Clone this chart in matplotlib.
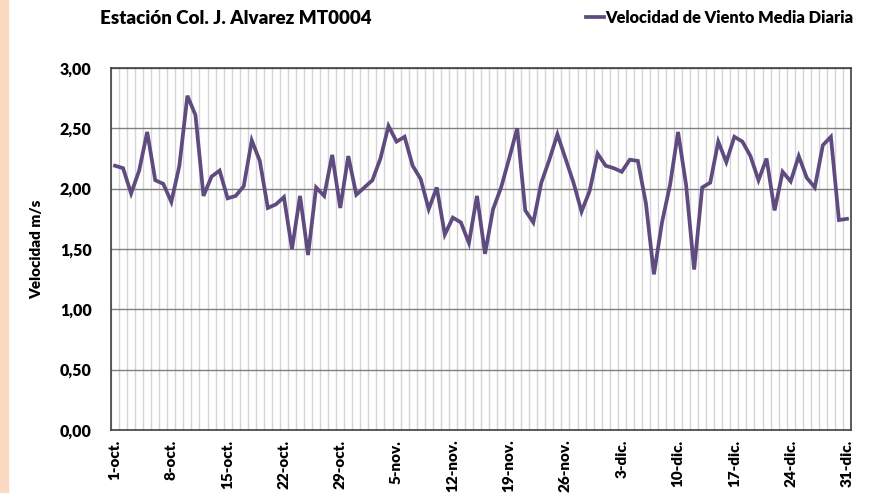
import matplotlib.pyplot as plt
import numpy as np

# daily mean wind speed, 1-oct .. 31-dic (92 days)
velocidad = [
    2.19, 2.17, 1.96, 2.15, 2.47, 2.07, 2.04, 1.89, 2.19, 2.77,
    2.61, 1.94, 2.10, 2.15, 1.92, 1.94, 2.02, 2.40, 2.23, 1.84,
    1.87, 1.93, 1.50, 1.94, 1.45, 2.01, 1.94, 2.28, 1.84, 2.27,
    1.95, 2.01, 2.07, 2.25, 2.52, 2.39, 2.43, 2.19, 2.08, 1.83,
    2.01, 1.62, 1.76, 1.72, 1.55, 1.94, 1.46, 1.83, 2.01, 2.25,
    2.50, 1.82, 1.72, 2.05, 2.24, 2.45, 2.25, 2.05, 1.81, 1.98,
    2.29, 2.19, 2.17, 2.14, 2.24, 2.23, 1.88, 1.29, 1.72, 2.03,
    2.47, 2.03, 1.33, 2.01, 2.05, 2.39, 2.22, 2.43, 2.39, 2.27,
    2.07, 2.25, 1.82, 2.14, 2.06, 2.27, 2.09, 2.01, 2.36, 2.43,
    1.74, 1.75,
]
etiquetas = ['1-oct.', '8-oct.', '15-oct.', '22-oct.', '29-oct.', '5-nov.',
             '12-nov.', '19-nov.', '26-nov.', '3-dic.', '10-dic.', '17-dic.',
             '24-dic.', '31-dic.']
y_ticks = [0, 0.5, 1.0, 1.5, 2.0, 2.5, 3.0]

plt.rcParams['font.family'] = ['Lato', 'DejaVu Sans']
plt.rcParams['font.weight'] = 'bold'

W, H = 879, 493
fig = plt.figure(figsize=(W / 100, H / 100), dpi=100)
ax = fig.add_axes([111 / W, 1 - 430 / H, 740 / W, 362 / H])

# peach strip on the left edge
fig.patches.append(plt.Rectangle((0, 0), 8 / W, 1, transform=fig.transFigure,
                                 color='#fcd9c2', zorder=0))

n = len(velocidad)
x = np.arange(n)
ax.plot(x, velocidad, color='#5f4b80', lw=2.7, solid_joinstyle='miter',
        label='Velocidad de Viento Media Diaria', zorder=3)

ax.set_xlim(-0.5, n - 0.5)
ax.set_ylim(0, 3)
ax.set_yticks(y_ticks)
ax.set_yticklabels([f'{v:.2f}'.replace('.', ',') for v in y_ticks],
                   fontsize=11.5, fontweight='heavy')
ax.set_xticks(x[::7])
ax.set_xticklabels(etiquetas, rotation=90, fontsize=11, fontweight='heavy')
ax.set_xticks(np.arange(n + 1) - 0.5, minor=True)
ax.tick_params(axis='both', which='both', length=0)
ax.tick_params(axis='y', pad=14)
ax.tick_params(axis='x', pad=7)

ax.grid(axis='x', which='minor', color='#d4d4d4', lw=1.0, zorder=1)
ax.grid(axis='y', which='major', color='#7f7f7f', lw=1.0, zorder=2)
for s in ax.spines.values():
    s.set_color('#404040')
    s.set_linewidth(1.2)

ax.set_ylabel('Velocidad m/s', fontsize=11, fontweight='heavy', labelpad=12)

fig.text(100 / W, 1 - 18 / H, 'Estación Col. J. Alvarez MT0004', fontsize=13.5,
         fontweight='heavy', va='center', ha='left')
fig.legend(loc='center right', bbox_to_anchor=(860 / W, 1 - 18 / H),
           frameon=False, handlelength=1.1, handletextpad=0.1,
           borderaxespad=0, prop={'weight': 'heavy', 'size': 11.8})

fig.savefig('out.png', dpi=100)
